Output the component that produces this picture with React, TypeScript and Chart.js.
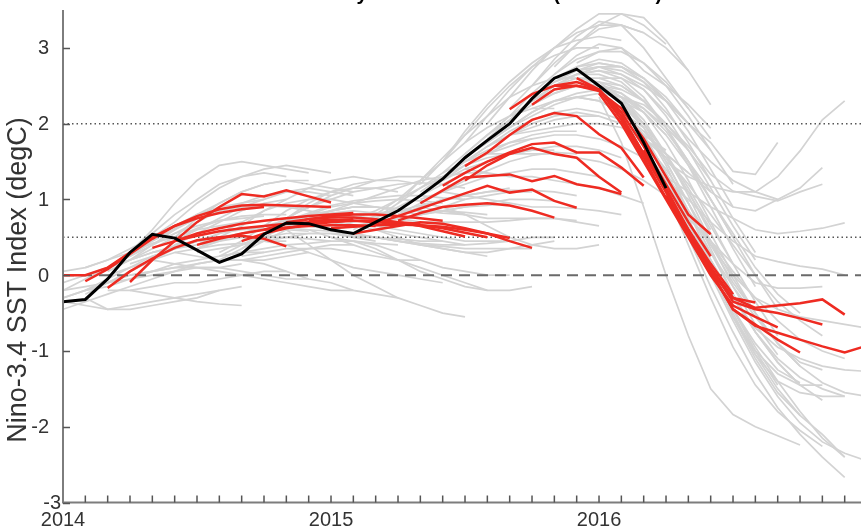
import React, { useEffect, useRef } from 'react';
import { Chart, registerables } from 'chart.js';
Chart.register(...registerables);

// x = months since Jan 2014
const X_MIN = 0;
const X_MAX = 35.73;
const Y_MIN = -3;
const Y_MAX = 3.5;
const yearLabels = ['2014', '2015', '2016'];
const yearMonths = [0, 12, 24];
const yTicks = [-3, -2, -1, 0, 1, 2, 3];
const dottedLevels = [2, 0.5];
const dashedLevels = [0];
const titleText = 'ENSO Forecasts by Model Start Month (2014-2016)';
const yTitle = 'Nino-3.4 SST Index (degC)';

// observed Nino-3.4 (black), from Jan 2014
const observed = [-0.35, -0.32, -0.05, 0.3, 0.54, 0.49, 0.33, 0.17, 0.28, 0.54, 0.69, 0.68, 0.6, 0.55,
  0.7, 0.85, 1.05, 1.27, 1.55, 1.78, 2.0, 2.33, 2.6, 2.72, 2.5, 2.27, 1.75, 1.15];

// highlighted forecasts (red): [start month, values]
const redRuns: [number, number[]][] = [
  [0, [0.0, 0.0, 0.1, 0.3, 0.5, 0.65, 0.75, 0.82, 0.87, 0.9]],
  [1, [-0.08, 0.08, 0.28, 0.48, 0.65, 0.78, 0.87, 0.92, 0.93, 0.92, 0.91, 0.9]],
  [2, [-0.17, 0.05, 0.22, 0.36, 0.46, 0.5, 0.52, 0.48, 0.38]],
  [3, [-0.09, 0.2, 0.45, 0.7, 0.9, 1.07, 1.04, 1.12, 1.04, 0.96]],
  [4, [0.36, 0.45, 0.55, 0.62, 0.68, 0.72, 0.75, 0.78, 0.8, 0.82]],
  [5, [0.45, 0.52, 0.58, 0.62, 0.65, 0.68, 0.7, 0.72, 0.74]],
  [6, [0.4, 0.48, 0.55, 0.6, 0.63, 0.65, 0.66, 0.66, 0.65]],
  [8, [0.45, 0.55, 0.62, 0.67, 0.7, 0.72, 0.72, 0.7, 0.68]],
  [9, [0.6, 0.68, 0.74, 0.78, 0.8, 0.8, 0.78, 0.75, 0.72]],
  [10, [0.7, 0.74, 0.76, 0.76, 0.74, 0.7, 0.65, 0.58, 0.51]],
  [11, [0.72, 0.73, 0.72, 0.7, 0.68, 0.66, 0.62, 0.56, 0.5]],
  [12, [0.62, 0.64, 0.66, 0.67, 0.66, 0.64, 0.6, 0.55, 0.49]],
  [13, [0.55, 0.6, 0.65, 0.7, 0.68, 0.62, 0.55, 0.45, 0.36]],
  [14, [0.68, 0.78, 0.88, 0.98, 1.08, 1.18, 1.09, 1.13, 0.98, 0.89]],
  [15, [0.72, 0.82, 0.9, 0.93, 0.95, 0.92, 0.85, 0.76]],
  [16, [0.95, 1.12, 1.29, 1.31, 1.33, 1.24, 1.31, 1.2, 1.15, 1.07]],
  [17, [1.18, 1.35, 1.5, 1.62, 1.73, 1.75, 1.62, 1.62, 1.42, 1.18]],
  [18, [1.25, 1.45, 1.6, 1.68, 1.6, 1.55, 1.3, 1.09]],
  [18, [1.44, 1.62, 1.85, 2.05, 2.14, 2.1, 1.86, 1.68, 1.29]],
  [20, [2.19, 2.39, 2.5, 2.5, 2.43, 2.2, 1.8, 1.3, 0.8, 0.54]],
  [21, [2.25, 2.45, 2.5, 2.45, 2.15, 1.7, 1.2, 0.7, 0.25]],
  [22, [2.5, 2.55, 2.45, 2.1, 1.6, 1.1, 0.6, 0.15, -0.25]],
  [23, [2.6, 2.45, 2.05, 1.55, 1.02, 0.52, 0.05, -0.3, -0.36]],
  [24, [2.4, 2.0, 1.5, 1.0, 0.5, 0.0, -0.4, -0.55, -0.69]],
  [25, [2.1, 1.6, 1.1, 0.55, 0.05, -0.45, -0.65, -0.85, -1.02]],
  [26, [1.65, 1.15, 0.6, 0.1, -0.35, -0.45, -0.5, -0.57, -0.65]],
  [27, [1.05, 0.55, 0.1, -0.3, -0.43, -0.4, -0.37, -0.32, -0.52]],
  [28, [0.56, 0.05, -0.45, -0.67, -0.76, -0.85, -0.94, -1.02, -0.93]],
];

// all other model forecasts (grey): [start month, values]
const greyRuns: [number, number[]][] = [
  [-2, [-0.45, -0.4, -0.3, -0.2, -0.1, 0.0, 0.05, 0.1, 0.1]],
  [-1, [-0.5, -0.45, -0.35, -0.25, -0.15, -0.05, 0.05, 0.15, 0.2]],
  [-1, [-0.3, -0.2, -0.05, 0.1, 0.2, 0.3, 0.38, 0.45, 0.5]],
  [0, [-0.3, -0.2, -0.05, 0.1, 0.25, 0.35, 0.45, 0.5, 0.55]],
  [0, [-0.2, -0.15, -0.1, -0.05, 0.0, 0.05, 0.1, 0.1, 0.15]],
  [0, [0.05, 0.1, 0.2, 0.3, 0.42, 0.5, 0.6, 0.65, 0.7]],
  [0, [-0.35, -0.4, -0.45, -0.4, -0.35, -0.3, -0.25, -0.2]],
  [0, [-0.1, 0.0, 0.1, 0.2, 0.3, 0.38, 0.45, 0.5, 0.52]],
  [1, [-0.25, -0.1, 0.05, 0.2, 0.35, 0.45, 0.55, 0.6, 0.62]],
  [1, [-0.3, -0.45, -0.45, -0.4, -0.35, -0.3, -0.2, -0.15]],
  [1, [0.1, 0.2, 0.35, 0.5, 0.65, 0.8, 0.9, 0.95, 1.0]],
  [1, [-0.2, -0.15, -0.05, 0.05, 0.15, 0.2, 0.25, 0.3, 0.3]],
  [1, [0.0, 0.1, 0.25, 0.4, 0.55, 0.65, 0.72, 0.75, 0.78]],
  [2, [-0.1, 0.05, 0.2, 0.4, 0.55, 0.7, 0.85, 0.95, 1.0]],
  [2, [0.0, 0.1, 0.2, 0.3, 0.35, 0.4, 0.42, 0.45, 0.45]],
  [2, [-0.2, -0.2, -0.15, -0.1, -0.1, -0.05, 0.0, 0.05, 0.05]],
  [2, [0.1, 0.3, 0.55, 0.8, 1.0, 1.2, 1.3, 1.35, 1.3]],
  [2, [0.05, 0.2, 0.35, 0.5, 0.62, 0.72, 0.78, 0.8, 0.8]],
  [3, [0.2, 0.4, 0.6, 0.8, 0.95, 1.1, 1.2, 1.25, 1.25]],
  [3, [0.15, 0.25, 0.35, 0.45, 0.5, 0.55, 0.6, 0.6, 0.58]],
  [3, [0.0, 0.05, 0.1, 0.15, 0.2, 0.2, 0.2, 0.25, 0.3]],
  [3, [0.3, 0.6, 0.95, 1.25, 1.45, 1.5, 1.45, 1.4, 1.35]],
  [3, [-0.2, -0.25, -0.3, -0.35, -0.38, -0.4]],
  [3, [0.25, 0.45, 0.62, 0.75, 0.85, 0.9, 0.92, 0.9, 0.88]],
  [4, [0.4, 0.55, 0.7, 0.85, 0.95, 1.05, 1.1, 1.1, 1.05]],
  [4, [0.3, 0.35, 0.4, 0.45, 0.5, 0.5, 0.5, 0.48, 0.45]],
  [4, [0.5, 0.7, 0.95, 1.15, 1.3, 1.4, 1.45, 1.4, 1.35]],
  [4, [0.2, 0.15, 0.1, 0.1, 0.05, 0.0, -0.05, -0.05]],
  [4, [0.45, 0.6, 0.75, 0.85, 0.9, 0.92, 0.9, 0.85, 0.8]],
  [5, [0.45, 0.6, 0.75, 0.9, 1.0, 1.1, 1.15, 1.1, 1.05]],
  [5, [0.4, 0.45, 0.5, 0.55, 0.6, 0.62, 0.6, 0.58, 0.55]],
  [5, [0.3, 0.25, 0.2, 0.2, 0.25, 0.3, 0.35, 0.4, 0.4]],
  [5, [0.5, 0.75, 0.95, 1.1, 1.2, 1.25, 1.2, 1.15, 1.1]],
  [6, [0.4, 0.55, 0.7, 0.85, 0.95, 1.0, 1.0, 0.95, 0.9]],
  [6, [0.3, 0.35, 0.4, 0.45, 0.5, 0.55, 0.55, 0.5, 0.45]],
  [6, [0.35, 0.5, 0.65, 0.85, 1.0, 1.15, 1.25, 1.3, 1.25]],
  [6, [0.1, 0.05, 0.0, -0.05, -0.1, -0.15, -0.2, -0.2]],
  [6, [0.35, 0.45, 0.55, 0.65, 0.72, 0.78, 0.8, 0.78, 0.75]],
  [7, [0.2, 0.35, 0.5, 0.65, 0.75, 0.85, 0.9, 0.9, 0.85]],
  [7, [0.25, 0.3, 0.35, 0.4, 0.42, 0.45, 0.45, 0.42, 0.4]],
  [7, [0.3, 0.45, 0.65, 0.85, 1.0, 1.1, 1.15, 1.15, 1.1]],
  [7, [0.25, 0.4, 0.55, 0.68, 0.78, 0.82, 0.85, 0.82, 0.78]],
  [8, [0.3, 0.45, 0.6, 0.75, 0.85, 0.9, 0.9, 0.85, 0.8]],
  [8, [0.25, 0.3, 0.35, 0.35, 0.35, 0.3, 0.25, 0.2, 0.2]],
  [8, [0.35, 0.55, 0.75, 0.95, 1.1, 1.2, 1.25, 1.25, 1.2]],
  [8, [0.2, 0.15, 0.05, -0.05, -0.1, -0.2, -0.25, -0.3]],
  [9, [0.55, 0.7, 0.8, 0.9, 0.95, 0.98, 1.0, 0.98, 0.95]],
  [9, [0.5, 0.55, 0.55, 0.55, 0.52, 0.5, 0.48, 0.45, 0.45]],
  [9, [0.6, 0.75, 0.9, 1.05, 1.15, 1.25, 1.3, 1.3, 1.25]],
  [9, [0.45, 0.4, 0.3, 0.2, 0.1, 0.05, 0.0, -0.05, -0.1]],
  [10, [0.7, 0.8, 0.85, 0.9, 0.9, 0.88, 0.85, 0.82, 0.8]],
  [10, [0.65, 0.7, 0.7, 0.65, 0.6, 0.55, 0.5, 0.45, 0.4]],
  [10, [0.75, 0.9, 1.0, 1.1, 1.15, 1.2, 1.22, 1.2, 1.15]],
  [10, [0.6, 0.4, 0.2, 0.0, -0.15, -0.3, -0.4, -0.5, -0.55]],
  [10, [0.72, 0.82, 0.92, 0.98, 1.02, 1.05, 1.05, 1.02, 1.0]],
  [11, [0.7, 0.75, 0.8, 0.82, 0.85, 0.85, 0.85, 0.83, 0.8]],
  [11, [0.65, 0.6, 0.55, 0.5, 0.45, 0.4, 0.35, 0.3, 0.25]],
  [11, [0.75, 0.85, 0.95, 1.05, 1.15, 1.25, 1.3, 1.35, 1.35]],
  [11, [0.6, 0.5, 0.4, 0.3, 0.2, 0.1, 0.0, -0.1, -0.2]],
  [12, [0.6, 0.65, 0.7, 0.75, 0.8, 0.85, 0.9, 0.92, 0.95]],
  [12, [0.55, 0.55, 0.5, 0.45, 0.42, 0.4, 0.4, 0.42, 0.45]],
  [12, [0.65, 0.75, 0.85, 1.0, 1.15, 1.3, 1.45, 1.55, 1.6]],
  [12, [0.5, 0.45, 0.4, 0.3, 0.2, 0.1, 0.05, 0.0, 0.0]],
  [12, [0.62, 0.7, 0.78, 0.85, 0.92, 0.98, 1.05, 1.1, 1.15]],
  [13, [0.55, 0.6, 0.7, 0.8, 0.9, 1.0, 1.05, 1.1, 1.1]],
  [13, [0.5, 0.5, 0.45, 0.4, 0.38, 0.35, 0.35, 0.35, 0.35]],
  [13, [0.6, 0.75, 0.95, 1.15, 1.35, 1.5, 1.65, 1.75, 1.8]],
  [13, [0.45, 0.35, 0.2, 0.05, -0.05, -0.15, -0.2, -0.2, -0.15]],
  [14, [0.75, 0.9, 1.05, 1.2, 1.35, 1.5, 1.6, 1.65, 1.65]],
  [14, [0.7, 0.75, 0.8, 0.85, 0.9, 0.95, 1.0, 1.0, 0.98]],
  [14, [0.8, 1.0, 1.25, 1.5, 1.75, 1.95, 2.1, 2.2, 2.2]],
  [14, [0.65, 0.6, 0.55, 0.5, 0.45, 0.45, 0.45, 0.5, 0.5]],
  [14, [0.6, 0.5, 0.4, 0.35, 0.3, 0.3, 0.35, 0.4, 0.45]],
  [15, [0.85, 1.05, 1.25, 1.45, 1.6, 1.75, 1.85, 1.9, 1.9]],
  [15, [0.8, 0.9, 1.0, 1.05, 1.1, 1.12, 1.12, 1.1, 1.05]],
  [15, [0.95, 1.25, 1.55, 1.85, 2.1, 2.35, 2.5, 2.6, 2.6]],
  [15, [0.75, 0.7, 0.7, 0.7, 0.7, 0.72, 0.75, 0.75, 0.72]],
  [15, [0.8, 0.95, 1.1, 1.25, 1.38, 1.5, 1.58, 1.62, 1.6]],
  [16, [1.1, 1.3, 1.5, 1.7, 1.85, 2.0, 2.1, 2.15, 2.1]],
  [16, [1.0, 1.1, 1.2, 1.3, 1.35, 1.4, 1.4, 1.35, 1.3]],
  [16, [1.2, 1.5, 1.85, 2.2, 2.5, 2.75, 2.9, 3.0, 3.0]],
  [16, [0.9, 0.85, 0.8, 0.75, 0.75, 0.75, 0.75, 0.7, 0.65]],
  [16, [0.95, 0.9, 0.8, 0.65, 0.5, 0.4, 0.35, 0.35, 0.4]],
  [17, [1.35, 1.6, 1.85, 2.05, 2.25, 2.4, 2.5, 2.5, 2.45]],
  [17, [1.25, 1.4, 1.5, 1.6, 1.65, 1.7, 1.7, 1.65, 1.55]],
  [17, [1.5, 1.9, 2.25, 2.55, 2.8, 3.0, 3.1, 3.15, 3.1]],
  [17, [1.1, 1.05, 1.0, 0.95, 0.9, 0.9, 0.88, 0.85, 0.8]],
  [17, [1.3, 1.5, 1.7, 1.9, 2.05, 2.15, 2.2, 2.15, 2.05]],
  [18, [1.6, 1.85, 2.1, 2.3, 2.45, 2.55, 2.55, 2.45, 2.3]],
  [18, [1.5, 1.6, 1.7, 1.8, 1.85, 1.85, 1.8, 1.7, 1.55]],
  [18, [1.75, 2.1, 2.45, 2.75, 3.0, 3.2, 3.3, 3.3, 3.2]],
  [18, [1.4, 1.35, 1.3, 1.3, 1.25, 1.2, 1.15, 1.05, 0.95]],
  [18, [1.55, 1.75, 1.95, 2.15, 2.3, 2.35, 2.3, 2.15, 1.95]],
  [19, [1.8, 2.05, 2.3, 2.5, 2.65, 2.7, 2.65, 2.5, 2.3]],
  [19, [1.7, 1.85, 1.95, 2.05, 2.1, 2.1, 2.0, 1.85, 1.65]],
  [19, [2.0, 2.35, 2.7, 3.0, 3.25, 3.45, 3.45, 3.3, 3.05]],
  [19, [1.6, 1.6, 1.6, 1.6, 1.55, 1.5, 1.4, 1.25, 1.05]],
  [19, [1.75, 1.95, 2.15, 2.3, 2.4, 2.45, 2.35, 2.15, 1.85]],
  [20, [2.05, 2.3, 2.5, 2.65, 2.75, 2.75, 2.6, 2.35, 2.0]],
  [20, [1.95, 2.1, 2.25, 2.35, 2.4, 2.35, 2.2, 1.95, 1.65]],
  [20, [2.2, 2.5, 2.8, 3.05, 3.25, 3.3, 3.2, 3.0, 2.7]],
  [20, [1.85, 1.9, 1.95, 2.0, 2.0, 1.95, 1.8, 1.6, 1.35]],
  [20, [2.1, 2.4, 2.65, 2.85, 2.95, 2.95, 2.8, 2.55, 2.2]],
  [21, [2.35, 2.55, 2.7, 2.75, 2.7, 2.55, 2.3, 2.0, 1.65]],
  [21, [2.25, 2.4, 2.5, 2.5, 2.4, 2.2, 1.9, 1.5, 1.1]],
  [21, [2.5, 2.85, 3.15, 3.35, 3.3, 3.0, 2.6, 2.2, 1.8]],
  [21, [2.2, 2.3, 2.35, 2.3, 2.15, 1.9, 1.55, 1.1, 0.6]],
  [21, [2.3, 2.5, 2.6, 2.6, 2.5, 2.3, 2.0, 1.65, 1.25]],
  [22, [2.6, 2.75, 2.85, 2.8, 2.6, 2.3, 1.9, 1.4, 0.9]],
  [22, [2.55, 2.65, 2.65, 2.55, 2.3, 1.95, 1.5, 1.0, 0.5]],
  [22, [2.75, 3.05, 3.3, 3.45, 3.4, 3.1, 2.7, 2.25]],
  [22, [2.5, 2.55, 2.5, 2.3, 2.0, 1.6, 1.15, 0.65, 0.15]],
  [22, [2.65, 2.9, 3.05, 3.0, 2.8, 2.5, 2.1, 1.65, 1.2]],
  [23, [2.7, 2.8, 2.75, 2.55, 2.2, 1.75, 1.25, 0.75, 0.3]],
  [23, [2.65, 2.7, 2.6, 2.35, 1.95, 1.45, 0.9, 0.35, -0.15]],
  [23, [2.8, 2.95, 3.0, 2.7, 2.5, 2.25, 1.94]],
  [23, [2.75, 2.8, 2.75, 2.6, 2.3, 2.0, 1.75, 1.37, 1.33, 1.75]],
  [23, [2.6, 2.55, 2.35, 2.0, 1.5, 0.95, 0.4, -0.1, -0.5]],
  [23, [2.7, 2.75, 2.65, 2.45, 2.1, 1.65, 1.15, 0.65, 0.2]],
  [24, [2.5, 2.4, 2.15, 1.75, 1.25, 0.7, 0.15, -0.35, -0.8]],
  [24, [2.55, 2.5, 2.3, 1.95, 1.5, 1.0, 0.5, 0.0, -0.45]],
  [24, [2.45, 2.3, 1.95, 1.45, 0.85, 0.2, -0.45, -1.0, -1.45]],
  [24, [2.6, 2.6, 2.45, 2.15, 1.8, 1.5, 1.25, 1.1, 1.0]],
  [24, [2.35, 1.75, 0.9, 0.0, -0.8, -1.5, -1.84, -2.0, -2.12, -2.24]],
  [24, [2.4, 2.2, 1.8, 1.3, 0.7, 0.1, -0.45, -0.9, -1.25, -1.42]],
  [24, [2.5, 2.35, 2.05, 1.6, 1.05, 0.45, -0.15, -0.65, -1.05]],
  [25, [2.25, 2.0, 1.6, 1.1, 0.55, 0.0, -0.5, -0.9, -1.2]],
  [25, [2.3, 2.15, 1.85, 1.45, 1.0, 0.55, 0.1, -0.25, -0.5]],
  [25, [2.2, 1.85, 1.35, 0.75, 0.1, -0.55, -1.1, -1.55, -1.85]],
  [25, [2.35, 2.25, 2.0, 1.7, 1.33, 1.11, 1.04, 0.98, 1.1, 1.2]],
  [25, [2.2, 1.85, 1.35, 0.75, 0.1, -0.55, -1.0, -1.3, -1.45, -1.45]],
  [25, [2.1, 1.7, 1.1, 0.4, -0.3, -0.95, -1.45, -1.8, -2.05, -2.26]],
  [25, [2.25, 1.95, 1.5, 0.95, 0.35, -0.25, -0.75, -1.15, -1.45]],
  [26, [1.75, 1.4, 0.95, 0.45, -0.05, -0.5, -0.9, -1.15, -1.25]],
  [26, [1.8, 1.55, 1.2, 0.8, 0.4, 0.0, -0.35, -0.6, -0.8]],
  [26, [1.7, 1.25, 0.7, 0.1, -0.5, -1.05, -1.5, -1.85, -2.1, -2.4]],
  [26, [1.9, 1.6, 1.35, 1.1, 0.9, 0.85, 1.0, 1.15, 1.42]],
  [26, [1.65, 1.2, 0.65, 0.05, -0.55, -1.05, -1.4, -1.55, -1.6, -1.6]],
  [26, [1.75, 1.35, 0.85, 0.3, -0.25, -0.75, -1.15, -1.45, -1.65]],
  [27, [1.15, 0.7, 0.2, -0.3, -0.75, -1.1, -1.35, -1.5, -1.6]],
  [27, [1.2, 0.85, 0.45, 0.05, -0.3, -0.6, -0.85, -1.0, -1.1]],
  [27, [1.1, 0.5, -0.15, -0.75, -1.3, -1.75, -2.1, -2.4, -2.67]],
  [27, [1.25, 1.0, 0.7, 0.45, 0.25, 0.18, 0.12, 0.08, 0.0]],
  [27, [1.5, 1.3, 1.17, 1.1, 1.1, 1.3, 1.64, 2.05, 2.3]],
  [27, [1.3, 1.1, 0.9, 0.75, 0.6, 0.55, 0.58, 0.62, 0.69]],
  [28, [0.7, 0.3, -0.15, -0.55, -0.9, -1.2, -1.42, -1.55, -1.6]],
  [28, [0.6, 0.1, -0.45, -0.95, -1.4, -1.8, -2.15, -2.4]],
  [28, [0.75, 0.45, 0.15, -0.1, -0.17, -0.17, -0.15]],
  [28, [0.8, 0.4, 0.0, -0.3, -0.45, -0.55, -0.6, -0.65, -0.7]],
  [28, [0.65, 0.2, -0.3, -0.7, -0.95, -1.1, -1.2, -1.25, -1.27]],
  [28, [0.55, 0.0, -0.6, -1.15, -1.6, -1.95, -2.2, -2.35, -2.45]],
];

const GREY = '#d3d3d3';
const RED = '#ee2b22';

const toPoints = (start: number, vals: number[]) => vals.map((y, i) => ({ x: start + i, y }));

const axesPlugin = {
  id: 'matlabAxes',
  afterDraw(chart: any) {
    const { ctx, chartArea, scales } = chart;
    const { left, right, top, bottom } = chartArea;
    const xs = scales.x;
    const ys = scales.y;
    ctx.save();
    ctx.strokeStyle = '#7d7d7d';
    ctx.lineWidth = 2;
    ctx.beginPath();
    ctx.moveTo(left, top);
    ctx.lineTo(left, bottom);
    ctx.lineTo(right + 2, bottom);
    ctx.stroke();
    ctx.strokeStyle = '#555';
    ctx.lineWidth = 1.5;
    ctx.beginPath();
    for (const v of yTicks) {
      const py = Math.round(ys.getPixelForValue(v)) + 0.5;
      ctx.moveTo(left, py);
      ctx.lineTo(left + 7, py);
    }
    for (let m = Math.ceil(X_MIN) + 1; m <= Math.floor(X_MAX); m++) {
      const px = xs.getPixelForValue(m);
      ctx.moveTo(px, bottom);
      ctx.lineTo(px, bottom - 7);
    }
    ctx.stroke();
    ctx.fillStyle = '#333';
    ctx.font = '20px "Liberation Sans", Arial, sans-serif';
    ctx.textAlign = 'right';
    ctx.textBaseline = 'middle';
    for (const v of yTicks) {
      const py = ys.getPixelForValue(v);
      ctx.fillText(String(v), v === Y_MIN ? left - 2 : left - 14, py + 1);
    }
    ctx.textAlign = 'center';
    ctx.textBaseline = 'alphabetic';
    yearLabels.forEach((lab, i) => {
      ctx.fillText(lab, xs.getPixelForValue(yearMonths[i]), 526);
    });
    ctx.save();
    ctx.translate(19, 280);
    ctx.rotate(-Math.PI / 2);
    ctx.textAlign = 'center';
    ctx.textBaseline = 'middle';
    ctx.font = '27px "Liberation Sans", Arial, sans-serif';
    ctx.fillText(yTitle, 0, 0);
    ctx.restore();
    ctx.fillStyle = '#000';
    ctx.font = 'bold 20px "Liberation Sans", Arial, sans-serif';
    ctx.textAlign = 'left';
    ctx.textBaseline = 'alphabetic';
    ctx.fillText(titleText, 182, -0.5);
    ctx.restore();
  },
};

export default function App() {
  const ref = useRef<HTMLCanvasElement | null>(null);
  useEffect(() => {
    if (!ref.current) return;
    const datasets: any[] = [];
    greyRuns.forEach(([s, v]) => datasets.push({
      data: toPoints(s, v), borderColor: GREY, borderWidth: 1.7, order: 4,
    }));
    dottedLevels.forEach((lv) => datasets.push({
      data: [{ x: X_MIN, y: lv }, { x: X_MAX + 1, y: lv }], borderColor: '#555', borderWidth: 1.5,
      borderDash: [1.5, 3], order: 3,
    }));
    dashedLevels.forEach((lv) => datasets.push({
      data: [{ x: X_MIN, y: lv }, { x: X_MAX + 1, y: lv }], borderColor: '#6a6a6a', borderWidth: 2,
      borderDash: [11, 7], order: 3,
    }));
    redRuns.forEach(([s, v]) => datasets.push({
      data: toPoints(s, v), borderColor: RED, borderWidth: 2.5, order: 2,
    }));
    datasets.push({ data: toPoints(0, observed), borderColor: '#000', borderWidth: 3, order: 1 });

    const chart = new Chart(ref.current, {
      type: 'line',
      data: { datasets },
      options: {
        animation: false,
        responsive: false,
        devicePixelRatio: 1,
        layout: { padding: { left: 63, top: 10, right: 0, bottom: 25.5 } },
        elements: { point: { radius: 0 }, line: { tension: 0, fill: false } },
        plugins: { legend: { display: false }, tooltip: { enabled: false }, title: { display: false } },
        scales: {
          x: { type: 'linear', min: X_MIN, max: X_MAX, display: false },
          y: { type: 'linear', min: Y_MIN, max: Y_MAX, display: false },
        },
      },
      plugins: [axesPlugin],
    });
    return () => chart.destroy();
  }, []);
  return (
    <div style={{ position: 'fixed', left: 0, top: 0, width: 861, height: 528, background: '#fff' }}>
      <canvas ref={ref} width={861} height={528} style={{ display: 'block' }} />
    </div>
  );
}
